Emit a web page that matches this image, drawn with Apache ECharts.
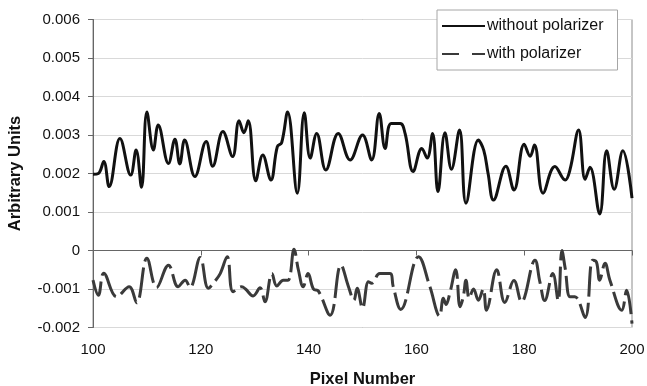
<!DOCTYPE html>
<html>
<head>
<meta charset="utf-8">
<script src="https://cdn.jsdelivr.net/npm/echarts@6/dist/echarts.min.js"></script>
<style>
  html, body { margin: 0; padding: 0; background: #fff; }
  #chart { width: 647px; height: 386px; }
</style>
</head>
<body>
<div id="chart"></div>
<script>
// pixel positions / values
const pixelsWithout = [100, 101, 102, 103, 105, 107, 108, 109, 110, 111.2, 112.1, 114, 115.2, 116.1, 117, 118.9, 121, 122.2, 124.1, 125.9, 127.1, 128, 128.8, 130.2, 131.5, 133, 134.2, 135, 136.1, 137.9, 139.2, 140.3, 141.5, 143.2, 145.5, 147.7, 150, 151.7, 153.1, 154.2, 155.3, 157, 157.9, 159.4, 161, 162, 163, 164, 165.3, 166.5, 168, 169.2, 171.5, 172.5, 173.3, 174.3, 176.6, 178.1, 180, 181.1, 181.9, 183.5, 185.7, 187.6, 188.5, 190.1, 191.3, 192.2, 194, 195.3, 196.7, 198.3, 200];
const valuesWithout = [0.00198, 0.0020, 0.00231, 0.00166, 0.00291, 0.00196, 0.00261, 0.00164, 0.0036, 0.00261, 0.00326, 0.00226, 0.00289, 0.00225, 0.00287, 0.00192, 0.00283, 0.00219, 0.00309, 0.00244, 0.00337, 0.00306, 0.00337, 0.00181, 0.00248, 0.00183, 0.0027, 0.0028, 0.0036, 0.00149, 0.00358, 0.0024, 0.00304, 0.00209, 0.00304, 0.00235, 0.0030, 0.00235, 0.00356, 0.00265, 0.0033, 0.0033, 0.00304, 0.00205, 0.00265, 0.0024, 0.00304, 0.00153, 0.00306, 0.00211, 0.00313, 0.00123, 0.00287, 0.0026, 0.0020, 0.00131, 0.00219, 0.00157, 0.00276, 0.00245, 0.00274, 0.00149, 0.00218, 0.00183, 0.0021, 0.00313, 0.00185, 0.00216, 0.00095, 0.00259, 0.00159, 0.00259, 0.00136];

const pixelsWith = [100, 101, 102, 104.4, 106.7, 108.1, 110, 111.8, 114, 115.8, 117.1, 118, 119.9, 121.4, 122.6, 123.6, 124.9, 126, 127.6, 128.3, 129.7, 131, 131.9, 133.2, 134.1, 135.3, 136.2, 137.3, 138.1, 139, 139.9, 140.9, 141.8, 144, 146, 147.4, 148.4, 149, 150, 151.1, 151.7, 153.2, 155.1, 155.7, 157.1, 160.4, 162.5, 164.3, 165, 165.5, 166.2, 167.3, 168.1, 168.7, 169.2, 169.8, 170.6, 171.5, 172.4, 173, 174.9, 176.4, 178.1, 179.5, 182, 182.9, 183.8, 185.3, 186.3, 187, 187.6, 188.5, 189.4, 191.3, 192.7, 193.4, 194, 195, 195.9, 198.1, 199, 200];
const valuesWith = [-0.00077, -0.00116, -0.00059, -0.0012, -0.00094, -0.00136, -0.0002, -0.00096, -0.00038, -0.00094, -0.00077, -0.00096, -0.00018, -0.00098, -0.0008, -0.0006, -0.00016, -0.00107, -0.00094, -0.0010, -0.00118, -0.00097, -0.00133, -0.0006, -0.00092, -0.00077, -0.00077, 0.00003, -0.0005, -0.00094, -0.0006, -0.0010, -0.00105, -0.00168, -0.00038, -0.00094, -0.00129, -0.00098, -0.0015, -0.00081, -0.00085, -0.0006, -0.0006, -0.00094, -0.00153, -0.00016, -0.00094, -0.0017, -0.00124, -0.0014, -0.00111, -0.0005, -0.00146, -0.0012, -0.00077, -0.00124, -0.0010, -0.00129, -0.0010, -0.00155, -0.0005, -0.00135, -0.00078, -0.00133, -0.00025, -0.00081, -0.0013, -0.0006, -0.0013, 0, -0.00046, -0.0012, -0.0012, -0.00174, -0.00025, -0.0003, -0.00077, -0.00033, -0.00077, -0.00155, -0.00103, -0.0019];

const xTicks = [100, 120, 140, 160, 180, 200];
const yTicks = [-0.002, -0.001, 0, 0.001, 0.002, 0.003, 0.004, 0.005, 0.006];

const FONT = "'Liberation Sans', Arial, sans-serif";

function pairs(xs, ys) {
  return xs.map((x, i) => [x, ys[i]]);
}

const chart = echarts.init(document.getElementById('chart'));
chart.setOption({
  animation: false,
  backgroundColor: '#fff',
  textStyle: { fontFamily: FONT },
  grid: {
    left: 93,
    right: 15,
    top: 19.5,
    bottom: 58.5,
    outerBoundsMode: 'none',
    show: true,
    borderColor: '#8c8c8c',
    borderWidth: 1,
  },
  legend: {
    orient: 'vertical',
    left: 437,
    top: 10,
    padding: [8, 14, 8, 4],
    itemWidth: 43,
    itemHeight: 14,
    itemGap: 12,
    backgroundColor: '#fff',
    borderColor: '#a6a6a6',
    borderWidth: 1,
    itemStyle: { opacity: 0, borderWidth: 0 },
    textStyle: { fontSize: 16, color: '#111', fontFamily: FONT, padding: [0, 0, 0, -3] },
    data: [
      { name: 'without polarizer' },
      { name: 'with polarizer', lineStyle: { type: [17, 13] } },
    ],
  },
  xAxis: {
    type: 'value',
    min: xTicks[0],
    max: xTicks[xTicks.length - 1],
    interval: 20,
    name: 'Pixel Number',
    nameLocation: 'middle',
    nameGap: 43,
    nameTextStyle: { fontSize: 16.5, fontWeight: 'bold', color: '#111', fontFamily: FONT },
    axisLine: { lineStyle: { color: '#666', width: 1 } },
    axisTick: { show: true, length: 5, lineStyle: { color: '#666' } },
    axisLabel: { fontSize: 15, color: '#111', margin: 15, fontFamily: FONT },
    splitLine: { show: false },
  },
  yAxis: {
    type: 'value',
    min: yTicks[0],
    max: yTicks[yTicks.length - 1],
    interval: 0.001,
    name: 'Arbitrary Units',
    nameLocation: 'middle',
    nameGap: 69,
    nameTextStyle: { fontSize: 16.5, fontWeight: 'bold', color: '#111', fontFamily: FONT },
    axisLine: { show: true, lineStyle: { color: '#666', width: 1 } },
    axisTick: { show: true, length: 5, lineStyle: { color: '#666' } },
    axisLabel: {
      fontSize: 15,
      color: '#111',
      margin: 13,
      fontFamily: FONT,
      formatter: (v) => (Math.abs(v) < 1e-9 ? '0' : v.toFixed(3)),
    },
    splitLine: { show: true, lineStyle: { color: '#d9d9d9', width: 1 } },
  },
  series: [
    {
      name: 'without polarizer',
      type: 'line',
      data: pairs(pixelsWithout, valuesWithout),
      smooth: 0.4,
      symbol: 'none',
      lineStyle: { color: '#111', width: 3 },
      itemStyle: { color: '#111' },
    },
    {
      name: 'with polarizer',
      type: 'line',
      data: pairs(pixelsWith, valuesWith),
      smooth: 0.4,
      symbol: 'none',
      lineStyle: { color: '#3a3a3a', width: 3, type: [30, 6], cap: 'butt' },
      itemStyle: { color: '#3a3a3a' },
    },
  ],
});
</script>
</body>
</html>
